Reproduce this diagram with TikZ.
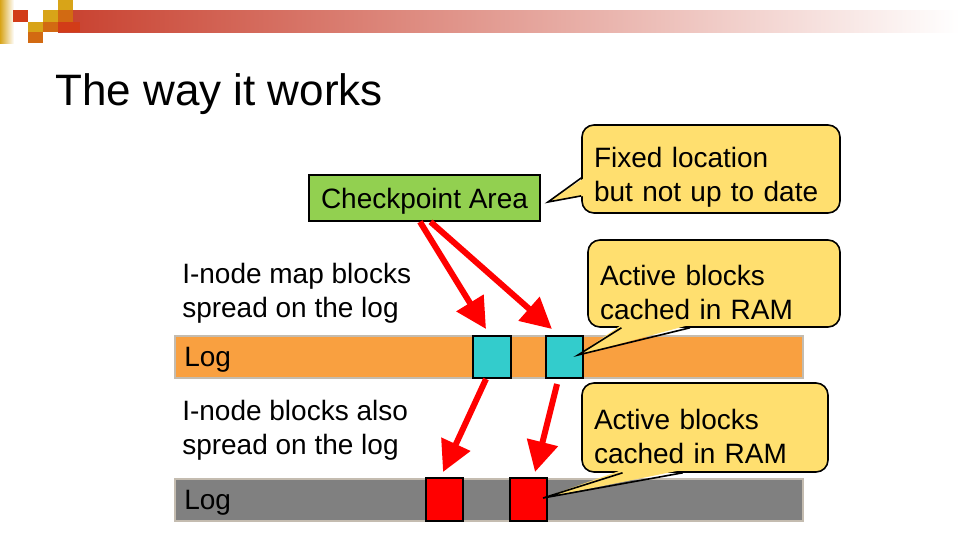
\documentclass[tikz,border=0pt]{standalone}
\usepackage{fontspec}
\setmainfont{Liberation Sans}
\usepackage{xcolor}
\definecolor{barRed}{HTML}{C8402E}
\definecolor{logoGold}{HTML}{D8A418}
\definecolor{logoOrange}{HTML}{D26A12}
\definecolor{logoRed}{HTML}{D23C18}
\definecolor{areaGreen}{HTML}{92D050}
\definecolor{noteYellow}{HTML}{FFDF6F}
\definecolor{logOrange}{HTML}{F9A040}
\definecolor{logGray}{HTML}{808080}
\definecolor{edgeGray}{HTML}{C4BCB0}
\definecolor{blockCyan}{HTML}{33CCCC}
\definecolor{blockRed}{HTML}{FF0000}
\usetikzlibrary{calc, positioning, arrows.meta}

\newcommand{\noteStrut}{\rule{0pt}{28pt}}

\tikzset{
  bodyText/.style={font=\fontsize{21}{25.5}\selectfont, inner sep=0pt},
  logBar/.style={minimum width=471pt, minimum height=31.5pt, draw=edgeGray, line width=1.5pt,
                 bodyText, text width=457pt, inner xsep=7pt, align=left, text depth=0pt},
  blockBox/.style={draw=black, line width=1.5pt, minimum width=28pt, minimum height=31.5pt, inner sep=0pt},
  calloutBox/.style={fill=noteYellow, draw=black, line width=1.2pt, rounded corners=9pt,
                     bodyText, align=left, inner xsep=9pt},
  ptrArrow/.style={draw=blockRed, line width=4.5pt, -{Triangle[length=23pt,width=23pt]}},
}

\begin{document}
\begin{tikzpicture}[x=0.75pt, y=-0.75pt]
  \useasboundingbox (0,0) rectangle (960,540);

  \shade[left color=logoGold, right color=white] (0,0) rectangle (14,43);
  \shade[left color=barRed, right color=white] (58,10) rectangle (960,32);
  \fill[logoRed] (13,10) rectangle (28,22);
  \fill[logoGold] (28,22) rectangle (43,32);
  \fill[logoOrange] (28,32) rectangle (43,43);
  \fill[logoGold] (43,10) rectangle (58,22);
  \fill[logoOrange] (43,22) rectangle (58,32);
  \fill[logoGold] (58,0) rectangle (73,10);
  \fill[logoOrange] (58,10) rectangle (73,22);
  \fill[logoRed] (58,22) rectangle (80,32);

  \node[anchor=base west, font=\fontsize{33}{40}\selectfont, inner sep=0pt] (title) at (55,105) {The way it works};

  \node[fill=areaGreen, draw=black, line width=1.2pt, minimum width=173pt, minimum height=34.5pt, bodyText, text depth=0pt]
    (ckpt) at (424.5,198) {Checkpoint Area};

  \node[bodyText, anchor=base west, align=left] (mapnote) at (182,317) {I-node map blocks\\spread on the log};
  \node[bodyText, anchor=base west, align=left] (inodenote) at (182,454) {I-node blocks also\\spread on the log};

  \node[logBar, fill=logOrange] (log1) at (489,357) {Log};
  \node[logBar, fill=logGray] (log2) at (489,499.5) {Log};

  \node[blockBox, fill=blockCyan] (cyan1) at (492,357) {};
  \node[blockBox, fill=blockCyan] (cyan2) at (564.5,357) {};
  \node[blockBox, fill=blockRed, minimum height=32.25pt] (red1) at (444.5,499.5) {};
  \node[blockBox, fill=blockRed, minimum height=32.25pt] (red2) at (528.5,499.5) {};

  \draw[ptrArrow] ([xshift=-3.4pt]ckpt.south) -- ([xshift=-4.5pt,yshift=4.5pt]cyan1.north);
  \draw[ptrArrow] ([xshift=4.5pt]ckpt.south) -- ([xshift=-9.4pt,yshift=4.5pt]cyan2.north);
  \draw[ptrArrow] ([xshift=-4.5pt]cyan1.south) -- ([xshift=-1.1pt,yshift=3.75pt]red1.north);
  \draw[ptrArrow] ([xshift=-5.6pt,yshift=-3.75pt]cyan2.south) -- ([xshift=4.9pt,yshift=3.75pt]red2.north);

  \node[calloutBox, text width=175.5pt, minimum height=66pt] (fixednote) at (711,169)
    {\noteStrut Fixed location\\but not up to date};
  \node[calloutBox, text width=171pt, minimum height=65.25pt] (ramnote1) at (714,283.5)
    {\noteStrut Active blocks\\cached in RAM};
  \node[calloutBox, text width=166.5pt, minimum height=66.75pt] (ramnote2) at (705,427.5)
    {\noteStrut Active blocks\\cached in RAM};

  \coordinate (tip1) at (548,202);
  \coordinate (tip2) at (578,355);
  \coordinate (tip3) at (543,498);

  \fill[noteYellow] ($(fixednote.north west)!0.6!(fixednote.south west)+(3,0)$) -- (tip1)
    -- ($(fixednote.north west)!0.8!(fixednote.south west)+(3,0)$) -- cycle;
  \draw[line width=1.2pt] ($(fixednote.north west)!0.6!(fixednote.south west)$) -- (tip1)
    -- ($(fixednote.north west)!0.8!(fixednote.south west)$);

  \fill[noteYellow] ($(ramnote1.south west)!0.135!(ramnote1.south east)+(0,-3)$) -- (tip2)
    -- ($(ramnote1.south west)!0.405!(ramnote1.south east)+(0,-3)$) -- cycle;
  \draw[line width=1.2pt] ($(ramnote1.south west)!0.135!(ramnote1.south east)$) -- (tip2)
    -- ($(ramnote1.south west)!0.405!(ramnote1.south east)$);

  \fill[noteYellow] ($(ramnote2.south west)!0.167!(ramnote2.south east)+(0,-3)$) -- (tip3)
    -- ($(ramnote2.south west)!0.41!(ramnote2.south east)+(0,-3)$) -- cycle;
  \draw[line width=1.2pt] ($(ramnote2.south west)!0.167!(ramnote2.south east)$) -- (tip3)
    -- ($(ramnote2.south west)!0.41!(ramnote2.south east)$);
\end{tikzpicture}
\end{document}
